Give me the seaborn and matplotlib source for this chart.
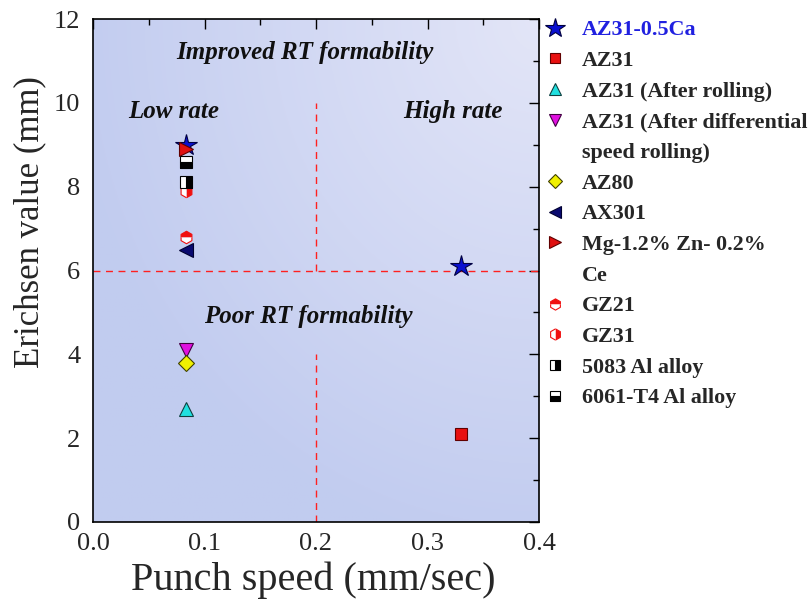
import numpy as np
import pandas as pd
import matplotlib
matplotlib.use("Agg")
import matplotlib.pyplot as plt
import seaborn as sns
from matplotlib.lines import Line2D

sns.set_theme(style="white")
plt.rcParams['font.family'] = ['Liberation Serif', 'DejaVu Serif']

# ---- data ----
series = ["AZ31-0.5Ca", "AZ31", "AZ31 (After rolling)",
          "AZ31 (After differential\nspeed rolling)", "AZ80", "AX301",
          "Mg-1.2% Zn- 0.2%\nCe", "GZ21", "GZ31", "5083 Al alloy", "6061-T4 Al alloy"]
speed = {
    "AZ31-0.5Ca": [0.083, 0.33],
    "AZ31": [0.33],
    "AZ31 (After rolling)": [0.083],
    "AZ31 (After differential\nspeed rolling)": [0.083],
    "AZ80": [0.083],
    "AX301": [0.083],
    "Mg-1.2% Zn- 0.2%\nCe": [0.083],
    "GZ21": [0.083],
    "GZ31": [0.083],
    "5083 Al alloy": [0.083],
    "6061-T4 Al alloy": [0.083],
}
erichsen = {
    "AZ31-0.5Ca": [9.0, 6.1],
    "AZ31": [2.1],
    "AZ31 (After rolling)": [2.7],
    "AZ31 (After differential\nspeed rolling)": [4.1],
    "AZ80": [3.8],
    "AX301": [6.5],
    "Mg-1.2% Zn- 0.2%\nCe": [8.9],
    "GZ21": [6.8],
    "GZ31": [7.9],
    "5083 Al alloy": [8.1],
    "6061-T4 Al alloy": [8.6],
}
xticks = [0.0, 0.1, 0.2, 0.3, 0.4]
yticks = [0, 2, 4, 6, 8, 10, 12]

styles = {
    "AZ31-0.5Ca": dict(marker='*', ms=16, mfc='#0a10d0', mec='#000040', fillstyle='full'),
    "AZ31": dict(marker='s', ms=8, mfc='#e81010', mec='#600000', fillstyle='full'),
    "AZ31 (After rolling)": dict(marker='^', ms=10, mfc='#20e0e0', mec='#104040', fillstyle='full'),
    "AZ31 (After differential\nspeed rolling)": dict(marker='v', ms=10, mfc='#e010e0', mec='#400040', fillstyle='full'),
    "AZ80": dict(marker='D', ms=8, mfc='#f0f000', mec='#404000', fillstyle='full'),
    "AX301": dict(marker='<', ms=10, mfc='#0a0a70', mec='#000030', fillstyle='full'),
    "Mg-1.2% Zn- 0.2%\nCe": dict(marker='>', ms=10, mfc='#e01010', mec='#600000', fillstyle='full'),
    "GZ21": dict(marker='h', ms=9, mfc='#f01010', mec='#f01010', fillstyle='top', mfcalt='white'),
    "GZ31": dict(marker='h', ms=9, mfc='#f01010', mec='#f01010', fillstyle='right', mfcalt='white'),
    "5083 Al alloy": dict(marker='s', ms=8, mfc='black', mec='black', fillstyle='right', mfcalt='white'),
    "6061-T4 Al alloy": dict(marker='s', ms=8, mfc='black', mec='black', fillstyle='bottom', mfcalt='white'),
}

rows = []
for s in series:
    for xv, yv in zip(speed[s], erichsen[s]):
        rows.append(dict(series=s, speed=xv, erichsen=yv))
df = pd.DataFrame(rows)

fig = plt.figure(figsize=(8.12, 6.0), dpi=100)
ax = fig.add_axes([93 / 812, 1 - 522 / 600, 446 / 812, 503 / 600])

# gradient background (lighter towards the upper right)
gx, gy = np.meshgrid(np.linspace(0, 1, 300), np.linspace(0, 1, 300))
d = np.sqrt((1 - gx) ** 2 + (1 - gy) ** 2)
t = np.clip(1 - d / 1.05, 0, 1)
c0 = np.array([0.76, 0.80, 0.94])
c1 = np.array([0.89, 0.90, 0.97])
img = c0[None, None, :] * (1 - t[..., None]) + c1[None, None, :] * t[..., None]
ax.imshow(img, extent=[0, 0.4, 0, 12], origin='lower', aspect='auto', zorder=0)

# reference lines
dash = (0, (5, 4))
ax.axhline(6, color='#ff2020', ls=dash, lw=1.0, zorder=1)
ax.plot([0.2, 0.2], [6, 10], color='#ff2020', ls=dash, lw=1.0, zorder=1)
ax.plot([0.2, 0.2], [0, 4], color='#ff2020', ls=dash, lw=1.0, zorder=1)

handles = []
labels = []
for s in series:
    st = styles[s]
    sub = df[df.series == s]
    kw = dict(marker=st['marker'], markersize=st['ms'], markerfacecolor=st['mfc'],
              markeredgecolor=st['mec'], fillstyle=st['fillstyle'], markeredgewidth=0.8)
    if 'mfcalt' in st:
        kw['markerfacecoloralt'] = st['mfcalt']
    for _, r in sub.iterrows():
        sns.lineplot(x=[r.speed], y=[r.erichsen], ax=ax, linestyle='', zorder=3,
                     legend=False, **kw)
    lkw = dict(kw)
    lkw['markersize'] = st['ms'] * 0.9
    parts = s.split('\n')
    handles.append(Line2D([], [], linestyle='', **lkw))
    labels.append(parts[0])
    for p in parts[1:]:
        handles.append(Line2D([], [], linestyle='', marker=None))
        labels.append(p)

ax.set_xlim(0, 0.4)
ax.set_ylim(0, 12)
ax.set_xticks(xticks)
ax.set_xticklabels([f"{v:.1f}" for v in xticks])
ax.set_yticks(yticks)
ax.set_xticks(np.arange(0.05, 0.4, 0.1), minor=True)
ax.set_yticks(np.arange(1, 12, 2), minor=True)
ax.tick_params(which='both', direction='in', top=True, right=True, labelsize=19,
               color='black', width=1.0)
ax.tick_params(axis='y', which='major', pad=9)
ax.tick_params(axis='x', which='major', pad=8)
ax.tick_params(which='major', length=7)
ax.tick_params(which='minor', length=4)
for sp in ax.spines.values():
    sp.set_color('black')
    sp.set_linewidth(1.2)
ax.set_xlabel("Punch speed (mm/sec)", fontsize=29)
ax.set_ylabel("Erichsen value (mm)", fontsize=25)
ax.xaxis.set_label_coords(0.493, -0.078)
ax.yaxis.set_label_coords(-0.105, 0.596)

tfont = dict(fontsize=18, fontweight='bold', fontstyle='italic', ha='center', va='center',
             color='#101010', zorder=4)
ax.text(0.19, 11.2, "Improved RT formability", **tfont)
ax.text(0.072, 9.8, "Low rate", **tfont)
ax.text(0.323, 9.8, "High rate", **tfont)
ax.text(0.193, 4.9, "Poor RT formability", **tfont)

leg = fig.legend(handles=handles, labels=labels, loc='upper left',
                 bbox_to_anchor=(544 / 812, 1 - 20 / 600),
                 frameon=False, prop=dict(weight='bold', size=15.8),
                 handletextpad=0.72, labelspacing=0.47, borderaxespad=0.0, borderpad=0.0,
                 handlelength=1.0)
leg.get_texts()[0].set_color('#2020e0')

fig.savefig("out.png", dpi=100)
